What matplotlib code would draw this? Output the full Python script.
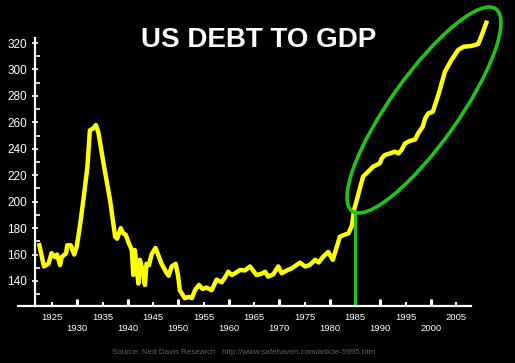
import matplotlib
matplotlib.use('Agg')
import matplotlib.pyplot as plt
from matplotlib.patches import Ellipse
from matplotlib.ticker import FixedLocator

# values (debt to GDP, %)
years = [1922.5, 1923.4, 1924.3, 1924.9, 1925.6, 1926.0, 1926.6, 1926.9, 1927.8, 1928.0,
         1928.7, 1929.4, 1929.9, 1930.5, 1931.2, 1932.0, 1932.5, 1933.2, 1933.7, 1934.2,
         1935.2, 1936.5, 1937.5, 1937.9, 1938.6, 1939.1, 1939.6, 1940.1, 1940.8, 1941.1,
         1941.4, 1942.1, 1942.4, 1942.8, 1943.4, 1943.7, 1944.2, 1944.7, 1945.5, 1946.0,
         1946.7, 1947.7, 1948.1, 1948.7, 1949.5, 1950.0, 1950.3, 1951.3, 1952.1, 1952.7,
         1953.3, 1954.1, 1954.8, 1955.6, 1956.6, 1957.6, 1958.6, 1959.3, 1959.9, 1960.6,
         1961.3, 1962.2, 1963.2, 1964.2, 1964.8, 1965.5, 1966.5, 1967.2, 1967.8, 1968.8,
         1969.8, 1970.5, 1971.5, 1972.5, 1974.1, 1975.1, 1976.0, 1977.1, 1977.8, 1978.7,
         1979.7, 1980.6, 1981.4, 1982.0, 1982.8, 1983.7, 1984.4, 1984.8, 1985.4, 1986.6,
         1987.6, 1988.6, 1989.9, 1990.3, 1990.9, 1991.9, 1992.9, 1993.6, 1994.2, 1994.9,
         1995.9, 1996.9, 1997.5, 1998.4, 1998.9, 1999.5, 2000.4, 2001.5, 2002.8, 2004.1,
         2005.4, 2006.5, 2008.1, 2009.4, 2010.1, 2011.0]
debt_to_gdp = [167, 151, 153, 161, 158, 160, 152, 158, 161, 167,
               167, 160, 166, 181, 201, 226, 254, 255.5, 258, 252,
               229, 201, 173.5, 172, 180, 176, 175, 169.7, 163.4, 144.5,
               163.4, 138, 156, 150, 137, 153, 152, 160, 165, 160,
               153, 146, 144, 151, 153, 143, 133, 127, 128, 127,
               133, 137, 134, 135, 133, 141, 139, 143, 147, 144.5,
               146, 148.3, 148, 151, 148, 144.5, 145.5, 147, 143.3, 145,
               151, 145.8, 148, 149.6, 153.9, 151, 152, 156, 154, 158.4,
               162, 156, 166, 173.5, 174.8, 176, 182, 193.7, 202, 219,
               222.7, 226.5, 229, 232.8, 235.3, 236.5, 237.8, 236.5, 239, 244,
               246, 247, 251.6, 256.7, 263, 266.8, 268, 280.7, 298.3, 307.2,
               314.7, 317.2, 317.8, 319.3, 326, 335.4]

y_ticks = [140, 160, 180, 200, 220, 240, 260, 280, 300, 320]
y_minor = [130, 150, 170, 190, 210, 230, 250, 270, 290, 310]
x_ticks_lower = [1930, 1940, 1950, 1960, 1970, 1980, 1990, 2000]
x_ticks_upper = [1925, 1935, 1945, 1955, 1965, 1975, 1985, 1995, 2005]
highlight_year = 1985
highlight_top = 193

title = 'US DEBT TO GDP'
source = 'Source: Ned Davis Research   http://www.safehaven.com/article-5995.htm'

plt.rcParams['font.family'] = ['Liberation Sans', 'DejaVu Sans']

fig = plt.figure(figsize=(5.15, 3.63), dpi=100, facecolor='black')
ax = fig.add_axes([0, 0, 1, 1], facecolor='black')

ax.plot(years, debt_to_gdp, color='#ffff00', lw=3.2, solid_joinstyle='round')
ax.set_xlim(1914.7, 2016.68)
ax.set_ylim(77.97, 352.55)

# axes lines
for s in ['top', 'right']:
    ax.spines[s].set_visible(False)
ax.spines['left'].set_position(('data', 1921.6))
ax.spines['left'].set_bounds(121, 324)
ax.spines['bottom'].set_position(('data', 121))
ax.spines['bottom'].set_bounds(1918.3, 2008)
for s in ['left', 'bottom']:
    ax.spines[s].set_color('white')
    ax.spines[s].set_linewidth(1.6)

ax.yaxis.set_major_locator(FixedLocator(y_ticks))
ax.yaxis.set_minor_locator(FixedLocator(y_minor))
ax.tick_params(axis='y', which='major', direction='inout', length=5, width=1.2,
               colors='white', labelsize=8.5, pad=3)
ax.tick_params(axis='y', which='minor', direction='in', length=3.5, width=1.2, colors='white')

ax.xaxis.set_major_locator(FixedLocator(x_ticks_lower))
ax.xaxis.set_minor_locator(FixedLocator(x_ticks_upper))
ax.set_xticklabels([str(y) for y in x_ticks_lower])
ax.set_xticklabels([str(y) for y in x_ticks_upper], minor=True)
ax.tick_params(axis='x', which='major', direction='in', length=5, width=2.2,
               colors='white', labelsize=6.8, pad=13)
ax.tick_params(axis='x', which='minor', direction='in', length=3, width=1.5,
               colors='white', labelsize=6.8, pad=5)

# highlight
ax.vlines(highlight_year, 121, highlight_top, color='#1fc41a', lw=2.2)
ell = Ellipse((4.24, 2.53), 2.48, 0.68, angle=54.6, fill=False,
              edgecolor='#1fc41a', lw=2.6, transform=fig.dpi_scale_trans)
fig.patches.append(ell)

fig.text(259 / 515, 1 - 40 / 363, title, ha='center', va='center',
         fontsize=20, fontweight='bold', color='white')
fig.text(112 / 515, 1 - 353 / 363, source, ha='left', va='center',
         fontsize=5.8, color='#5a6470')

fig.savefig('out.png', dpi=100, facecolor='black')
